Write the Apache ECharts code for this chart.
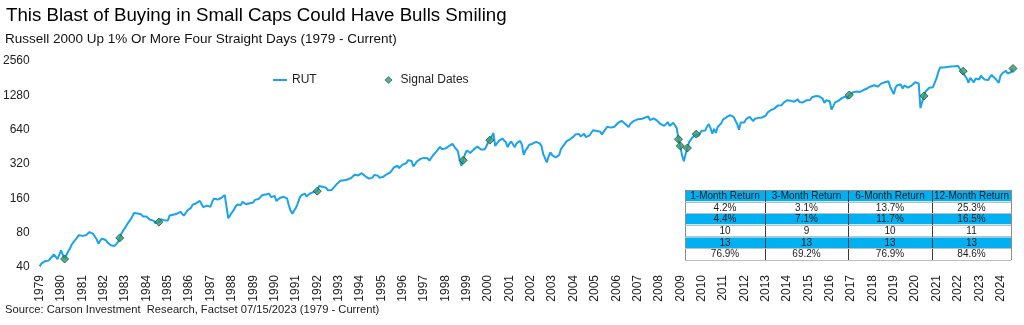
<!DOCTYPE html>
<html>
<head>
<meta charset="utf-8">
<title>Russell 2000 Signal Dates</title>
<script src="https://cdn.jsdelivr.net/npm/echarts@6/dist/echarts.min.js"></script>
<style>
  html, body { margin: 0; padding: 0; background: #ffffff; }
  #chart { width: 1024px; height: 325px; }
</style>
</head>
<body>
<div id="chart"></div>
<script>
// Russell 2000 (RUT) month-start levels, one row per year, starting January 1979
const rut1979to1989 = [
  40.5, 43, 41.5, 45, 45.5, 45.5, 47.5, 48.5, 51.5, 53, 47, 51,
  56, 58, 47, 51, 55, 58, 63, 66, 69, 71, 76, 75,
  75, 74, 76, 79, 81, 80, 78, 74, 70, 64, 68, 71,
  72, 69, 66, 64, 62, 60, 61, 63, 66, 72, 79, 84,
  88, 94, 99, 104, 111, 119, 121, 118, 114, 116, 111, 114,
  111, 107, 104, 103, 102, 97, 98, 99, 105, 105, 103, 100,
  102, 113, 116, 115, 114, 117, 119, 122, 120, 113, 117, 125,
  130, 132, 141, 146, 145, 150, 152, 142, 134, 136, 138, 137,
  135, 150, 159, 163, 156, 157, 161, 166, 171, 168, 107, 110,
  120, 126, 135, 141, 143, 140, 149, 147, 142, 146, 145, 140,
  147, 155, 155, 158, 164, 170, 168, 173, 177, 176, 164, 165
];
const rut1990s = [
  168, 152, 156, 161, 155, 165, 166, 160, 139, 125, 117, 125,
  132, 144, 160, 170, 170, 176, 166, 172, 177, 178, 182, 175,
  185, 205, 210, 202, 196, 198, 188, 195, 189, 194, 205, 214,
  221, 228, 223, 230, 224, 234, 237, 241, 250, 257, 262, 254,
  258, 266, 264, 250, 248, 238, 240, 243, 256, 255, 253, 242,
  250, 247, 256, 260, 266, 270, 283, 298, 304, 309, 295, 306,
  316, 315, 325, 345, 350, 340, 305, 320, 337, 348, 355, 360,
  362, 370, 359, 343, 343, 380, 395, 413, 423, 452, 432, 429,
  437, 430, 460, 478, 480, 455, 448, 415, 350, 308, 345, 390,
  420, 420, 400, 405, 430, 437, 455, 443, 428, 426, 428, 455
];
const rut2000s = [
  500, 518, 555, 598, 460, 475, 510, 525, 535, 520, 495, 450,
  484, 505, 475, 450, 485, 495, 510, 475, 385, 420, 440, 470,
  488, 482, 470, 500, 505, 485, 460, 390, 392, 330, 372, 405,
  383, 375, 365, 357, 385, 435, 450, 478, 505, 495, 527, 546,
  556, 580, 584, 588, 558, 567, 590, 550, 545, 570, 582, 632,
  652, 624, 634, 615, 580, 615, 639, 679, 667, 667, 645, 679,
  673, 733, 736, 765, 764, 720, 724, 675, 720, 725, 765, 785,
  788, 800, 792, 800, 814, 847, 834, 776, 792, 805, 828, 767,
  766, 715, 688, 690, 714, 745, 690, 705, 735, 700, 660, 528,
  461, 381, 339, 390, 442, 500, 508, 550, 570, 585, 560, 580
];
const rut2010s = [
  625, 602, 628, 678, 716, 660, 590, 650, 600, 676, 703, 727,
  784, 781, 823, 843, 860, 848, 827, 797, 715, 640, 740, 737,
  741, 792, 810, 830, 817, 762, 798, 786, 812, 837, 818, 821,
  849, 902, 911, 951, 947, 984, 977, 1045, 1010, 1050, 1100, 1143,
  1160, 1160, 1150, 1165, 1125, 1130, 1180, 1120, 1165, 1110, 1080, 1160,
  1195, 1165, 1233, 1253, 1260, 1247, 1254, 1239, 1200, 1100, 1160, 1198,
  1136, 960, 1030, 1110, 1130, 1150, 1150, 1215, 1235, 1250, 1190, 1288,
  1340, 1360, 1380, 1380, 1390, 1370, 1410, 1425, 1400, 1470, 1500, 1530,
  1530, 1570, 1510, 1525, 1540, 1630, 1645, 1665, 1720, 1700, 1520, 1530,
  1310, 1500, 1570, 1540, 1590, 1470, 1560, 1575, 1495, 1520, 1560, 1620
];
const rut2020s = [
  1665, 1620, 1630, 990, 1130, 1265, 1390, 1440, 1490, 1530, 1510, 1550,
  1800, 2050, 2240, 2280, 2250, 2290, 2270, 2240, 2290, 2260, 2300, 2350,
  2320, 2200, 2100, 2085, 1900, 1800, 1650, 1820, 1840, 1660, 1800, 1870,
  1760, 1900, 1870, 1760, 1750, 1740, 1850, 1930, 1860, 1800, 1720, 1650,
  1900, 2000, 2060, 2100, 1990, 2060, 2050, 2200
];

// Months in which the index rose 1% or more four days in a row
const signalMonths = [
  '1980-03', '1982-10', '1984-08', '1992-01', '1998-11', '2000-02', '2008-12',
  '2009-01', '2009-05', '2009-10', '2016-12', '2020-06', '2022-04', '2024-08'
];

// Y axis tick labels (log scale, base 2)
const yTicks = [40, 80, 160, 320, 640, 1280, 2560];

// Forward returns after a signal
const returnHeaders = ['1-Month Return', '3-Month Return', '6-Month Return', '12-Month Return'];
const averageReturn = [4.2, 3.1, 13.7, 25.3];
const medianReturn = [4.4, 7.1, 11.7, 16.5];
const timesHigher = [10, 9, 10, 11];
const signalCount = [13, 13, 13, 13];
const percentHigher = [76.9, 69.2, 76.9, 84.6];

const rutLevels = [].concat(rut1979to1989, rut1990s, rut2000s, rut2010s, rut2020s);
const months = rutLevels.map((_, i) => {
  const y = 1979 + Math.floor(i / 12);
  const m = (i % 12) + 1;
  return y + '-' + (m < 10 ? '0' + m : '' + m);
});
const signalPoints = signalMonths.map(m => [m, rutLevels[months.indexOf(m)]]);

const FONT = 'Arial, "Liberation Sans", sans-serif';
const LINE_BLUE = '#1AA3EC';
const TABLE_BLUE = '#00B0F0';
const MARKER_GREEN = '#2E9B6E';
const MARKER_EDGE = '#1B4D36';

// Table layout
const colEdges = [685, 765, 848, 932, 1011];
const rowEdges = [190, 201.5, 213, 224.5, 236.5, 248, 260];
const tableRows = [
  returnHeaders,
  averageReturn.map(v => v.toFixed(1) + '%'),
  medianReturn.map(v => v.toFixed(1) + '%'),
  timesHigher.map(String),
  signalCount.map(String),
  percentHigher.map(v => v.toFixed(1) + '%')
];
const tableGraphics = [];
tableRows.forEach((row, r) => {
  const y0 = rowEdges[r], y1 = rowEdges[r + 1];
  const filled = r % 2 === 0 && r < 5;
  tableGraphics.push({
    type: 'rect',
    shape: { x: colEdges[0], y: y0, width: colEdges[4] - colEdges[0], height: y1 - y0 },
    style: { fill: filled ? TABLE_BLUE : '#ffffff', stroke: null },
    z: 10
  });
  row.forEach((txt, c) => {
    tableGraphics.push({
      type: 'text',
      x: (colEdges[c] + colEdges[c + 1]) / 2,
      y: (y0 + y1) / 2 + 0.5,
      style: {
        text: txt, fill: '#1a1a1a', font: '10px ' + FONT,
        align: 'center', verticalAlign: 'middle'
      },
      z: 12
    });
  });
});
// column separators
for (let c = 0; c < colEdges.length; c++) {
  tableGraphics.push({
    type: 'line',
    shape: { x1: colEdges[c] + 0.5, y1: rowEdges[0], x2: colEdges[c] + 0.5, y2: rowEdges[6] },
    style: { stroke: c === 0 || c === 4 ? '#8c8c8c' : '#3a3a3a', lineWidth: 1 },
    z: 11
  });
}
// row separators
[rowEdges[1], rowEdges[2], rowEdges[3], rowEdges[4], rowEdges[5], rowEdges[6]].forEach(y => {
  tableGraphics.push({
    type: 'line',
    shape: { x1: colEdges[0], y1: Math.round(y) + 0.5, x2: colEdges[4], y2: Math.round(y) + 0.5 },
    style: { stroke: '#bdbdbd', lineWidth: 1 },
    z: 11
  });
});
tableGraphics.push({
  type: 'line',
  shape: { x1: colEdges[0], y1: rowEdges[0] + 0.5, x2: colEdges[4], y2: rowEdges[0] + 0.5 },
  style: { stroke: '#8c8c8c', lineWidth: 1 },
  z: 11
});

const chart = echarts.init(document.getElementById('chart'), null, { renderer: 'canvas' });
chart.setOption({
  animation: false,
  backgroundColor: '#ffffff',
  textStyle: { fontFamily: FONT },
  title: [
    {
      text: 'This Blast of Buying in Small Caps Could Have Bulls Smiling',
      left: 1, top: 1,
      textStyle: { fontSize: 18.7, fontWeight: 'normal', color: '#000000', fontFamily: FONT }
    },
    {
      text: 'Russell 2000 Up 1% Or More Four Straight Days (1979 - Current)',
      left: 0, top: 27,
      textStyle: { fontSize: 13.5, fontWeight: 'normal', color: '#111111', fontFamily: FONT }
    },
    {
      text: 'Source: Carson Investment  Research, Factset 07/15/2023 (1979 - Current)',
      left: 0, top: 299,
      textStyle: { fontSize: 11.2, fontWeight: 'normal', color: '#222222', fontFamily: FONT }
    }
  ],
  legend: {
    left: 268, top: 69,
    itemWidth: 14, itemHeight: 7, itemGap: 68,
    symbolKeepAspect: true,
    textStyle: { fontSize: 12, color: '#222222', fontFamily: FONT },
    data: [
      { name: 'RUT', icon: 'path://M0,0 L14,0 L14,2 L0,2 Z' },
      {
        name: 'Signal Dates',
        icon: 'path://M4,0 L8,4 L4,8 L0,4 Z',
        itemStyle: { color: MARKER_GREEN, borderColor: MARKER_EDGE, borderWidth: 0.8 }
      }
    ]
  },
  grid: { left: 38.5, right: 11, top: 61, bottom: 58, containLabel: false },
  xAxis: {
    type: 'category',
    data: months,
    boundaryGap: false,
    axisLine: { show: false },
    axisTick: { show: false },
    splitLine: { show: false },
    axisLabel: {
      rotate: 90,
      margin: 8,
      fontSize: 12,
      color: '#222222',
      fontFamily: FONT,
      interval: (index, value) => value.slice(5) === '01',
      formatter: value => value.slice(0, 4)
    }
  },
  yAxis: {
    type: 'log',
    logBase: 2,
    min: 40,
    max: 2560,
    axisLine: { show: false },
    axisTick: { show: false },
    splitLine: { show: false },
    axisLabel: {
      customValues: yTicks,
      margin: 10,
      fontSize: 12,
      color: '#222222',
      fontFamily: FONT,
      formatter: v => String(Math.round(v))
    }
  },
  series: [
    {
      name: 'RUT',
      type: 'line',
      data: rutLevels,
      showSymbol: false,
      symbol: 'none',
      lineStyle: { color: LINE_BLUE, width: 2 },
      itemStyle: { color: LINE_BLUE },
      z: 2
    },
    {
      name: 'Signal Dates',
      type: 'scatter',
      data: signalPoints,
      symbol: 'diamond',
      symbolSize: 8,
      itemStyle: { color: MARKER_GREEN, borderColor: MARKER_EDGE, borderWidth: 1 },
      z: 5
    }
  ],
  graphic: tableGraphics
});
</script>
</body>
</html>
